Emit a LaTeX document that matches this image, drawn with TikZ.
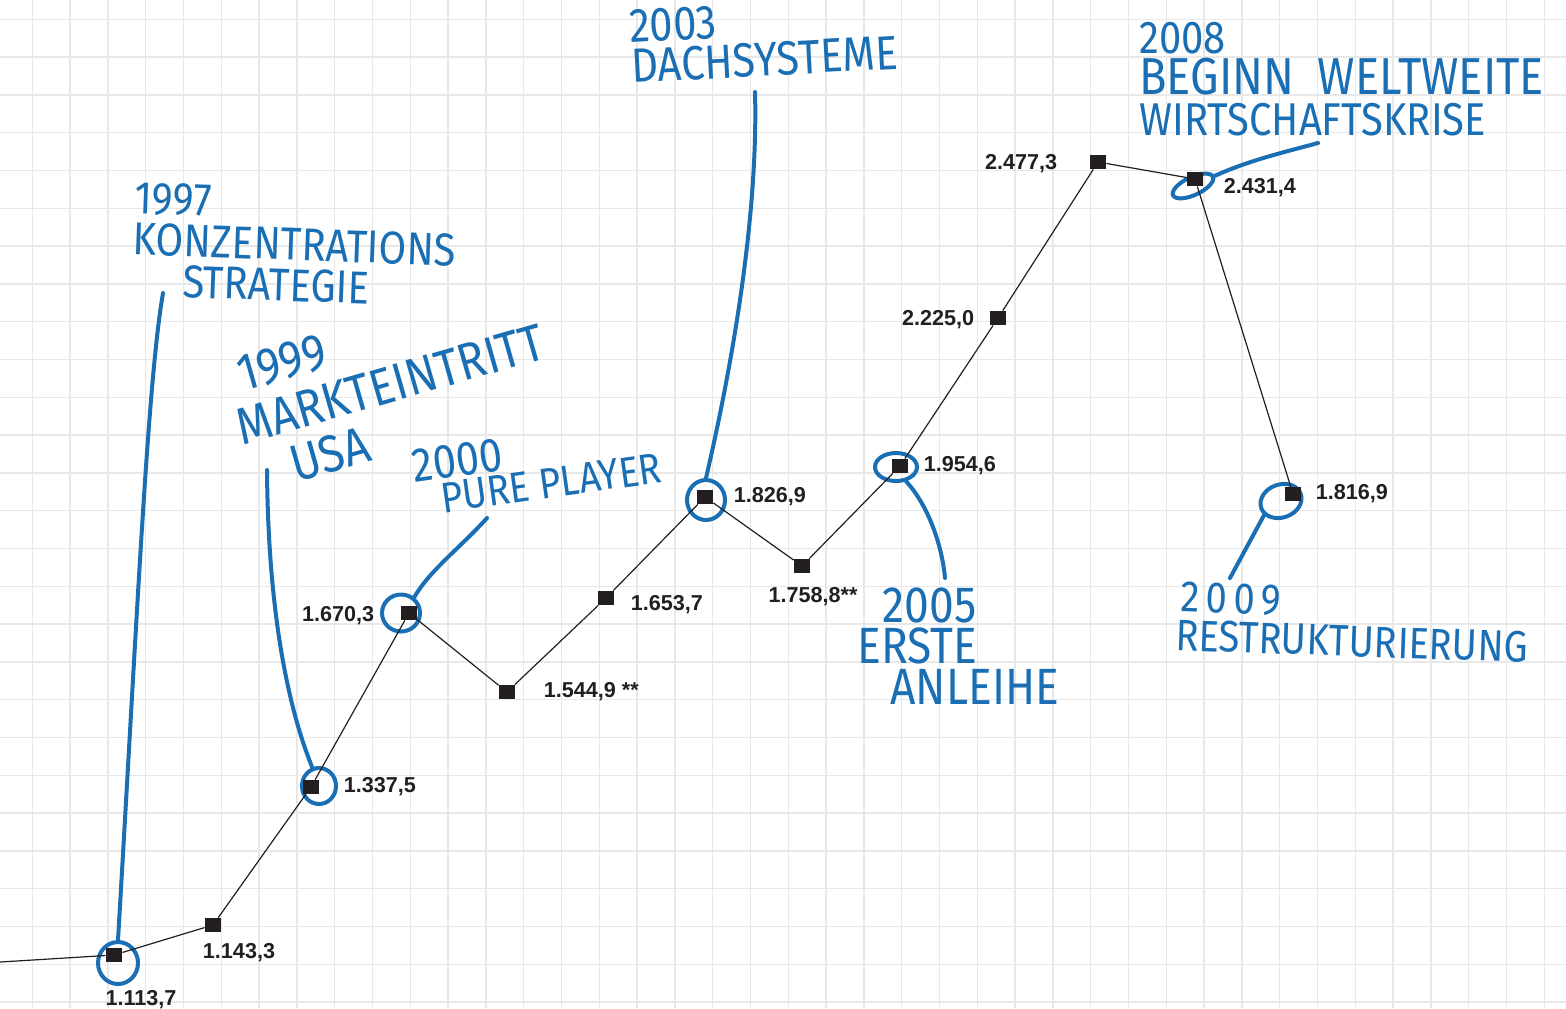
\documentclass[tikz,border=0pt]{standalone}
\usepackage{fontspec}
\setmainfont{Liberation Sans}
\newfontfamily\handfont{Fira Sans}[FakeStretch=0.87]
\usepackage{xcolor}
\usetikzlibrary{positioning,shapes.geometric}
\definecolor{ink}{HTML}{231F20}
\definecolor{pen}{HTML}{1A6EB4}
\definecolor{gridgray}{HTML}{E8E8E8}

\begin{document}
\begin{tikzpicture}[
  x=0.5pt, y=-0.5pt,
  font=\bfseries\fontsize{10.8}{12}\selectfont,
  gridline/.style={draw=gridgray, line width=0.7pt},
  datapt/.style={fill=ink, minimum width=8pt, minimum height=7pt, inner sep=0pt},
  num/.style={text=ink, inner sep=0pt},
  note/.style={text=pen, font=\handfont\fontsize{23}{20.5}\selectfont, align=left, inner sep=0pt, anchor=north west},
  ring/.style={draw=pen, ellipse, line width=2pt, inner sep=0pt},
  leader/.style={draw=pen, line width=2pt, line cap=round},
  trend/.style={draw=ink, line width=0.6pt}
]
  \fill[white] (0,0) rectangle (1566,1008);
  \useasboundingbox (0,0) rectangle (1566,1008);

  % squared paper
  \foreach \k in {0,...,40} \draw[gridline] ({32.3+37.8*\k},0) -- ++(0,1008);
  \foreach \k in {0,...,26} \draw[gridline] (0,{19.3+37.8*\k}) -- ++(1566,0);

  % handwritten notes
  \node[note, rotate=-2] (n97) at (135,182) {1997\\KONZENTRATIONS\\\hspace*{1.1em}STRATEGIE};
  \node[note, rotate=16, font=\handfont\fontsize{26}{25.5}\selectfont] (n99) at (218,362) {\hspace*{0.3em}1999\\MARKTEINTRITT\\\hspace*{0.8em}USA};
  \node[note, rotate=8, font=\handfont\fontsize{21.5}{17}\selectfont] (n00) at (410,450) {{\fontsize{24}{17}\selectfont 2000}\\\hspace*{0.55em}PURE PLAYER};
  \node[note, rotate=3, font=\handfont\fontsize{24}{20}\selectfont] (n03) at (628,10) {2003\\DACHSYSTEME};
  \node[note, font=\handfont\fontsize{25.5}{20.5}\selectfont] (n05) at (857,587) {\hspace*{0.5em}2005\\ERSTE\\\hspace*{0.65em}ANLEIHE};
  \node[note] (n08) at (1139,22) {2008\\{\fontsize{26}{20.5}\selectfont BEGINN\hspace{0.45em}WELTWEITE}\\WIRTSCHAFTSKRISE};
  \node[note, rotate=-2, font=\handfont\fontsize{22}{19.5}\selectfont] (n09) at (1177,581) {\hspace*{0.1em}2\hspace{0.14em}0\hspace{0.14em}0\hspace{0.14em}9\\RESTRUKTURIERUNG};

  \node[ring, minimum width=20pt, minimum height=21pt] (r97) at (118,963) {};
  \node[ring, minimum width=17pt, minimum height=18pt] (r99) at (319,786) {};
  \node[ring, minimum width=19pt, minimum height=18.5pt] (r00) at (401,613) {};
  \node[ring, minimum width=19pt, minimum height=20pt] (r03) at (706,500) {};
  \node[ring, minimum width=21pt, minimum height=14pt] (r05) at (896,467) {};
  \node[ring, minimum width=22pt, minimum height=9pt, rotate=25] (r08) at (1193,186) {};
  \node[ring, minimum width=21pt, minimum height=16.5pt, rotate=20] (r09) at (1281,501) {};

  \coordinate (c97) at (163,293);
  \coordinate (c99) at (267,470);
  \coordinate (c00) at (487,518);
  \coordinate (c03) at (755,92);
  \coordinate (c05) at (945,578);
  \coordinate (c08) at (1318,143);
  \coordinate (c09) at (1230,578);

  \draw[leader] (c97) .. controls (148,380) and (138,600) .. (r97.north);
  \draw[leader] (c99) .. controls (268,600) and (285,700) .. (r99.110);
  \draw[leader] (c00) .. controls (460,548) and (430,570) .. (r00.50);
  \draw[leader] (c03) .. controls (758,200) and (738,340) .. (r03.north);
  \draw[leader] (r05.-55) .. controls (928,505) and (942,545) .. (c05);
  \draw[leader] (r08.east) .. controls (1250,160) and (1285,152) .. (c08);
  \draw[leader] (c09) -- (r09.200);

  % revenue per year
  \node[datapt] (p97) at (114,955) {};
  \node[datapt] (p98) at (213,925) {};
  \node[datapt] (p99) at (311,787) {};
  \node[datapt] (p00) at (409,613) {};
  \node[datapt] (p01) at (507,692) {};
  \node[datapt] (p02) at (606,598) {};
  \node[datapt] (p03) at (705,497) {};
  \node[datapt] (p04) at (802,566) {};
  \node[datapt] (p05) at (900,466) {};
  \node[datapt] (p06) at (998,318) {};
  \node[datapt] (p07) at (1098,162) {};
  \node[datapt] (p08) at (1195,179) {};
  \node[datapt] (p09) at (1293,494) {};
  \coordinate (start) at (0,962);

  \draw[trend] (start) -- (p97) -- (p98) -- (p99) -- (p00) -- (p01) -- (p02) -- (p03)
    -- (p04) -- (p05) -- (p06) -- (p07) -- (p08) -- (p09);

  \node[num, below=14pt of p97, xshift=13.5pt] (v97) {1.113,7};
  \node[num, below=5.5pt of p98, xshift=13pt] (v98) {1.143,3};
  \node[num, right=12pt of p99] (v99) {1.337,5};
  \node[num, left=13pt of p00, yshift=-1.5pt] (v00) {1.670,3};
  \node[num, right=14pt of p01] (v01) {1.544,9 **};
  \node[num, right=8pt of p02, yshift=-3.5pt] (v02) {1.653,7};
  \node[num, right=10pt of p03] (v03) {1.826,9};
  \node[num, below=7pt of p04, xshift=5.5pt] (v04) {1.758,8**};
  \node[num, right=7.5pt of p05] (v05) {1.954,6};
  \node[num, left=7.5pt of p06, yshift=-1pt] (v06) {2.225,0};
  \node[num, left=16pt of p07, yshift=-1pt] (v07) {2.477,3};
  \node[num, right=10pt of p08, yshift=-4.5pt] (v08) {2.431,4};
  \node[num, right=7pt of p09] (v09) {1.816,9};
\end{tikzpicture}
\end{document}
